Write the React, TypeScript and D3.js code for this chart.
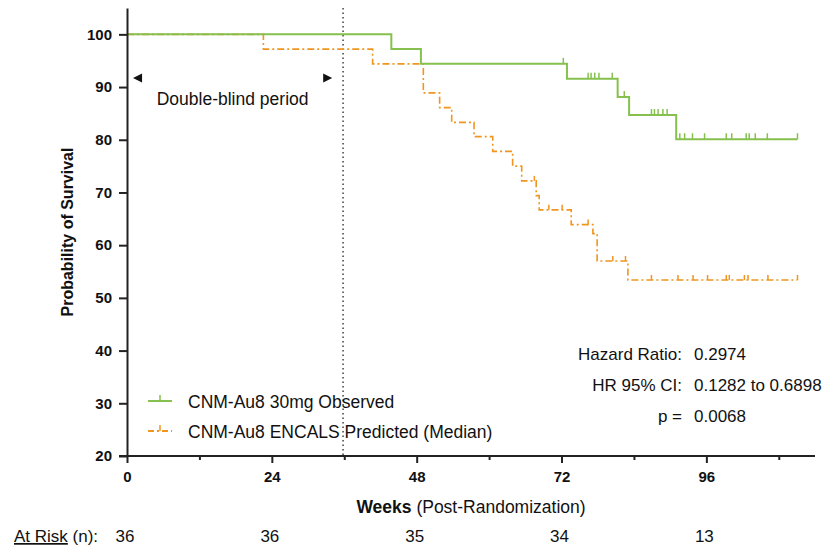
import React, { useEffect, useRef } from 'react';
import * as d3 from 'd3';

// observed arm: step times (weeks) and survival (%) after each step
const obsTimes = [0, 43.8, 48.7, 72.9, 81.3, 83.2, 91.0];
const obsSurv = [100, 97.2, 94.4, 91.6, 88.1, 84.7, 80.1];
const obsCensor = [72.3, 76.4, 76.9, 77.5, 78.2, 80.4, 82.4, 86.9, 87.4, 88.0, 88.8, 89.5,
  91.6, 92.4, 93.7, 95.7, 99.3, 100.2, 102.6, 103.1, 104.1, 106.1, 111.1];
const obsEnd = 111.1;

// ENCALS predicted median
const predTimes = [0, 22.6, 40.7, 49.1, 51.8, 53.8, 57.5, 60.6, 63.9, 65.4, 67.8, 68.3, 73.6, 77.2, 77.9, 83.0];
const predSurv = [100, 97.2, 94.4, 88.9, 86.1, 83.3, 80.6, 77.8, 75.0, 72.2, 69.4, 66.7, 63.9, 62.2, 57.0, 53.4];
const predCensor = [67.5, 69.9, 72.1, 76.4, 80.5, 82.6, 86.9, 91.3, 93.8, 96.2, 99.3, 99.8, 102.3, 102.9, 106.2, 111.1];
const predEnd = 111.1;

const xMajor = [0, 24, 48, 72, 96];
const xMinor = [12, 36, 60, 84, 108];
const yTicks = [20, 30, 40, 50, 60, 70, 80, 90, 100];
const atRisk = [36, 36, 35, 34, 13];
const blindEnd = 35.8;
const stats = [
  ['Hazard Ratio:', '0.2974'],
  ['HR 95% CI:', '0.1282 to 0.6898'],
  ['p =', '0.0068'],
];

const GREEN = '#86c04e';
const ORANGE = '#f0951f';
const AXIS = '#222';
const FONT = 'Liberation Sans, Arial, sans-serif';

const App: React.FC = () => {
  const svgRef = useRef<SVGSVGElement | null>(null);

  useEffect(() => {
    if (!svgRef.current) return;
    const svg = d3.select(svgRef.current);
    svg.selectAll('*').remove();

    const x = d3.scaleLinear().domain([0, 114]).range([127, 815]);
    const y = d3.scaleLinear().domain([20, 105]).range([456, 8]);

    const g = svg.append('g').style('font-family', FONT);

    // dotted line marking end of double-blind period
    g.append('line')
      .attr('x1', x(blindEnd)).attr('x2', x(blindEnd))
      .attr('y1', y(105)).attr('y2', y(20))
      .attr('stroke', '#222').attr('stroke-width', 1.3)
      .attr('stroke-dasharray', '1.5,3');

    const line = d3.line<[number, number]>()
      .x(d => x(d[0])).y(d => y(d[1]))
      .curve(d3.curveStepAfter);

    const stepAt = (times: number[], surv: number[], t: number) => {
      let v = surv[0];
      times.forEach((tt, i) => { if (tt <= t) v = surv[i]; });
      return v;
    };

    const drawCurve = (times: number[], surv: number[], end: number, censor: number[],
      color: string, dash: string | null, width: number, tick: number) => {
      const pts: [number, number][] = times.map((t, i) => [t, surv[i]]);
      pts.push([end, surv[surv.length - 1]]);
      const p = g.append('path')
        .attr('d', line(pts))
        .attr('fill', 'none')
        .attr('stroke', color)
        .attr('stroke-width', width);
      if (dash) p.attr('stroke-dasharray', dash);
      g.selectAll(null)
        .data(censor)
        .enter()
        .append('line')
        .attr('x1', d => x(d)).attr('x2', d => x(d))
        .attr('y1', d => y(stepAt(times, surv, d)))
        .attr('y2', d => y(stepAt(times, surv, d)) - tick)
        .attr('stroke', color)
        .attr('stroke-width', 1.5);
    };

    drawCurve(predTimes, predSurv, predEnd, predCensor, ORANGE, '7,3,2,3', 1.6, 5);
    drawCurve(obsTimes, obsSurv, obsEnd, obsCensor, GREEN, null, 2, 6);

    // y axis
    const yAxis = g.append('g')
      .attr('transform', `translate(${x(0)},0)`)
      .call(d3.axisLeft(y).tickValues(yTicks).tickSize(8).tickPadding(7).tickSizeOuter(0));
    yAxis.select('.domain').attr('stroke', AXIS).attr('stroke-width', 2);
    yAxis.selectAll('.tick line').attr('stroke', AXIS).attr('stroke-width', 2);
    yAxis.selectAll('text')
      .style('font-size', '15px').style('font-weight', 'bold')
      .style('font-family', FONT).attr('fill', '#111');

    // x axis
    const xAxis = g.append('g')
      .attr('transform', `translate(0,${y(20)})`)
      .call(d3.axisBottom(x).tickValues(xMajor).tickSize(7).tickPadding(8).tickSizeOuter(0));
    xAxis.select('.domain').attr('stroke', AXIS).attr('stroke-width', 2)
      .attr('d', `M${x(0) - 8},0H${x(114)}`);
    xAxis.selectAll('.tick line').attr('stroke', AXIS).attr('stroke-width', 2);
    xAxis.selectAll('text')
      .style('font-size', '15px').style('font-weight', 'bold')
      .style('font-family', FONT).attr('fill', '#111');

    const xMin = g.append('g')
      .attr('transform', `translate(0,${y(20)})`)
      .call(d3.axisBottom(x).tickValues(xMinor).tickSize(4).tickFormat(() => '').tickSizeOuter(0));
    xMin.select('.domain').remove();
    xMin.selectAll('.tick line').attr('stroke', AXIS).attr('stroke-width', 2);

    // axis titles
    g.append('text')
      .attr('transform', `translate(73,${(y(105) + y(20)) / 2}) rotate(-90)`)
      .attr('text-anchor', 'middle')
      .style('font-size', '16px').style('font-weight', 'bold')
      .attr('fill', '#111')
      .text('Probability of Survival');

    const xt = g.append('text')
      .attr('x', (x(0) + x(114)) / 2).attr('y', 513)
      .attr('text-anchor', 'middle')
      .style('font-size', '17.5px').attr('fill', '#111');
    xt.append('tspan').style('font-weight', 'bold').text('Weeks');
    xt.append('tspan').text(' (Post-Randomization)');

    // at risk row
    const ar = g.append('text').attr('x', 14).attr('y', 542)
      .style('font-size', '17px').attr('fill', '#111');
    ar.append('tspan').attr('text-decoration', 'underline').text('At Risk');
    ar.append('tspan').text(' (n):');
    g.selectAll(null)
      .data(atRisk)
      .enter()
      .append('text')
      .attr('x', (d, i) => x(xMajor[i]) - 2)
      .attr('y', 542)
      .attr('text-anchor', 'middle')
      .style('font-size', '17px').attr('fill', '#111')
      .text(d => String(d));

    // double-blind annotation
    const ay = 78;
    g.append('path')
      .attr('d', `M${x(1)},${ay}L${x(1) + 9},${ay - 4.5}L${x(1) + 9},${ay + 4.5}Z`)
      .attr('fill', '#111');
    g.append('path')
      .attr('d', `M${x(34)},${ay}L${x(34) - 9},${ay - 4.5}L${x(34) - 9},${ay + 4.5}Z`)
      .attr('fill', '#111');
    g.append('text')
      .attr('x', (x(1) + x(34)) / 2).attr('y', 105)
      .attr('text-anchor', 'middle')
      .style('font-size', '17.5px').attr('fill', '#111')
      .text('Double-blind period');

    // legend
    const legend = [
      { label: 'CNM-Au8 30mg Observed', color: GREEN, dash: null as string | null, ly: 401 },
      { label: 'CNM-Au8 ENCALS Predicted (Median)', color: ORANGE, dash: '6,3,2,3', ly: 431 },
    ];
    legend.forEach(l => {
      const ln = g.append('line')
        .attr('x1', 148).attr('x2', 172).attr('y1', l.ly).attr('y2', l.ly)
        .attr('stroke', l.color).attr('stroke-width', 2);
      if (l.dash) ln.attr('stroke-dasharray', l.dash);
      g.append('line')
        .attr('x1', 160).attr('x2', 160).attr('y1', l.ly).attr('y2', l.ly - 6)
        .attr('stroke', l.color).attr('stroke-width', 1.5);
      g.append('text')
        .attr('x', 188).attr('y', l.ly + 7)
        .style('font-size', '17.5px').attr('fill', '#111')
        .text(l.label);
    });

    // hazard ratio stats
    stats.forEach((s, i) => {
      g.append('text')
        .attr('x', 682).attr('y', 360 + i * 31)
        .attr('text-anchor', 'end')
        .style('font-size', '17px').attr('fill', '#111')
        .text(s[0]);
      g.append('text')
        .attr('x', 694).attr('y', 360 + i * 31)
        .style('font-size', '17px').attr('fill', '#111')
        .text(s[1]);
    });
  }, []);

  return (
    <div style={{ position: 'absolute', left: 0, top: 0, width: 839, height: 552, background: '#fff' }}>
      <svg ref={svgRef} width={839} height={552} style={{ display: 'block' }} />
    </div>
  );
};

export default App;
